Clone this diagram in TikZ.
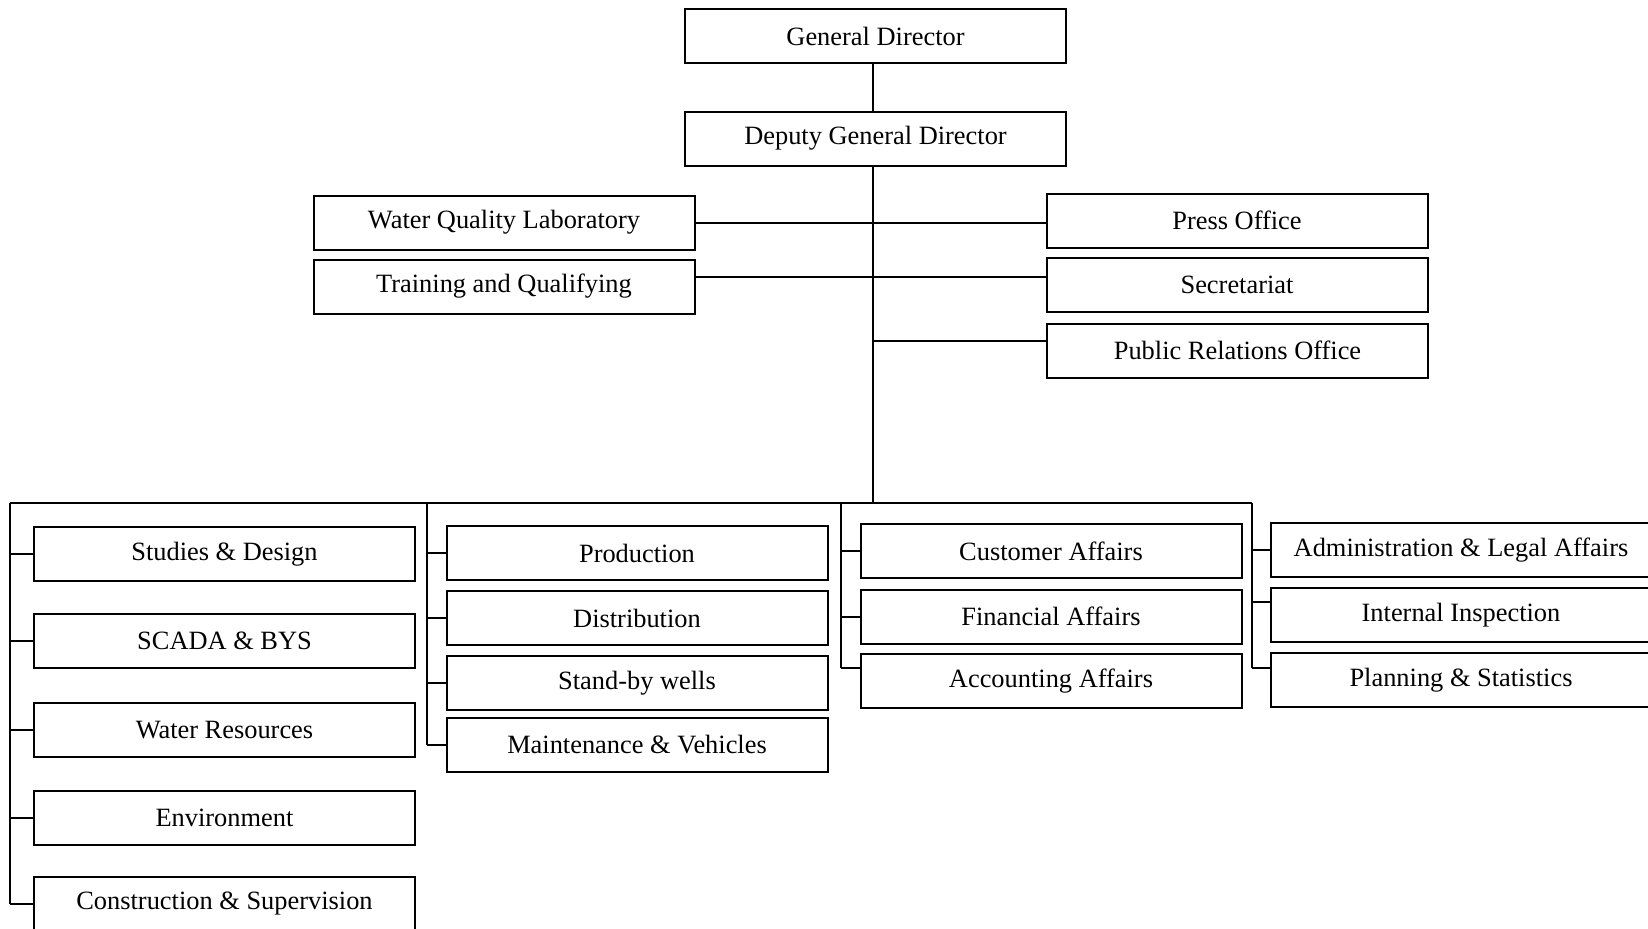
\documentclass[tikz,border=0pt]{standalone}
\usepackage{fontspec}
\setmainfont{Liberation Serif}
\begin{document}
\begin{tikzpicture}[x=0.5pt, y=-0.5pt, line width=1pt,
    unit/.style={draw, line width=1pt, inner sep=0pt,
      minimum width=190.5pt, minimum height=27pt,
      font=\fontsize{13.2}{15}\selectfont}]
  \useasboundingbox (0,0) rectangle (1648,928);
  % top of the chart
  \node[unit] (gd) at (875.5,36) {General Director};
  \node[unit] (dgd) at (875.5,138.5) {Deputy General Director};
  \node[unit] (wql) at (504,222.5) {Water Quality Laboratory};
  \node[unit] (train) at (504,286.5) {Training and Qualifying};
  \node[unit] (press) at (1237,220.5) {Press Office};
  \node[unit] (secr) at (1237,284.5) {Secretariat};
  \node[unit] (pro) at (1237.5,350.5) {Public Relations Office};
  \coordinate (trunk) at ([xshift=-1.25pt]dgd.south);
  \draw (gd.south -| trunk) -- (dgd.north -| trunk);
  \draw (wql.east) -- (wql.east -| press.west);
  \draw ([yshift=5pt]train.east) -- ([yshift=5pt]train.east -| secr.west);
  \draw ([yshift=5pt]pro.west) -- ([yshift=5pt]pro.west -| trunk);
  % departments
  \coordinate (spineA) at (10,503);
  \coordinate (spineB) at (427,503);
  \coordinate (spineC) at (841,503);
  \coordinate (spineD) at (1252,503);
  \draw (trunk) -- (trunk |- spineA);
  \draw (spineA) -- (spineD);
  \foreach \nm/\y/\txt in {sd/554/Studies \& Design, sc/641/SCADA \& BYS,
                          wr/730/Water Resources, env/818/Environment,
                          cs/904/Construction \& Supervision}{
    \node[unit] (\nm) at (224.5,\y) {\txt};
    \draw (\nm.west) -- (\nm.west -| spineA);
  }
  \foreach \nm/\y/\txt in {prod/553/Production, dist/618/Distribution,
                          sbw/683/Stand-by wells, mv/745/Maintenance \& Vehicles}{
    \node[unit] (\nm) at (637,\y) {\txt};
    \draw (\nm.west) -- (\nm.west -| spineB);
  }
  \foreach \nm/\y/\dy/\txt in {ca/551/0/Customer Affairs, fa/616.5/0/Financial Affairs,
                              aa/681/6.5/Accounting Affairs}{
    \node[unit] (\nm) at (1051,\y) {\txt};
    \draw ([yshift=\dy pt]\nm.west) -- ([yshift=\dy pt]\nm.west -| spineC);
  }
  \foreach \nm/\y/\dy/\txt in {adm/550/0/Administration \& Legal Affairs,
                              ii/615/6.5/Internal Inspection,
                              ps/680/6/Planning \& Statistics}{
    \node[unit] (\nm) at (1461,\y) {\txt};
    \draw ([yshift=\dy pt]\nm.west) -- ([yshift=\dy pt]\nm.west -| spineD);
  }
  \draw (spineA) -- (spineA |- cs.west);
  \draw (spineB) -- (spineB |- mv.west);
  \draw (spineC) -- ([yshift=6.5pt]spineC |- aa.west);
  \draw (spineD) -- ([yshift=6pt]spineD |- ps.west);
\end{tikzpicture}
\end{document}
